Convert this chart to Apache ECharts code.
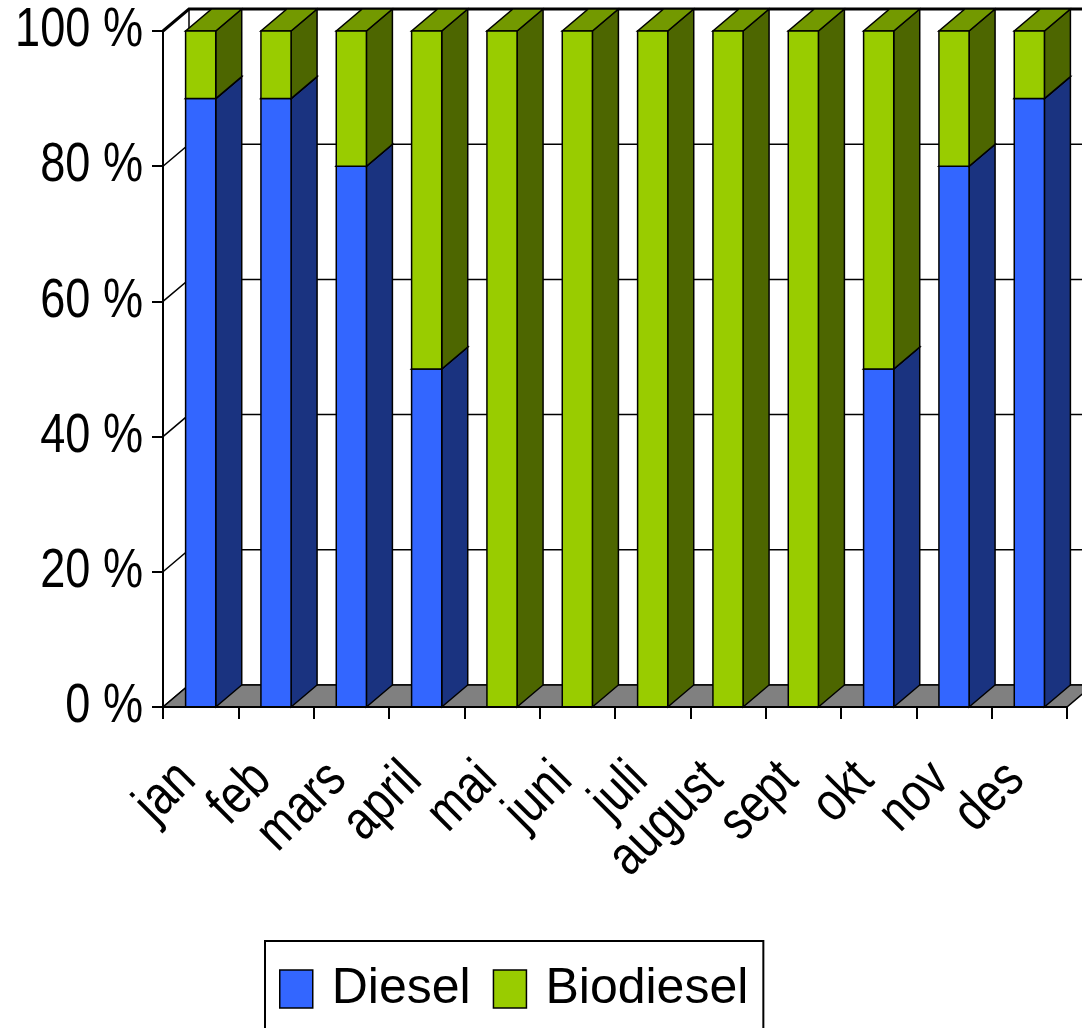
<!DOCTYPE html>
<html>
<head>
<meta charset="utf-8">
<script src="https://cdn.jsdelivr.net/npm/echarts@6/dist/echarts.min.js"></script>
<style>
  html, body { margin: 0; padding: 0; background: #fff; }
  #chart { width: 1082px; height: 1028px; }
</style>
</head>
<body>
<div id="chart"></div>
<script>
// Monthly fuel share (percent of total)
const months = ['jan', 'feb', 'mars', 'april', 'mai', 'juni', 'juli', 'august', 'sept', 'okt', 'nov', 'des'];
const diesel = [90, 90, 80, 50, 0, 0, 0, 0, 0, 50, 80, 90];
const biodiesel = [10, 10, 20, 50, 100, 100, 100, 100, 100, 50, 20, 10];
const yTicks = [0, 20, 40, 60, 80, 100];

const FONT = '"Liberation Sans", Arial, sans-serif';
const LABEL_SIZE = 55;
const NARROW = 0.82;          // horizontal squeeze for a narrow sans look
// 3D depth offset of the back plane
const DX = 26, DY = -22;

const palette = {
  Diesel:    { front: '#3366FF', side: '#1A3380', top: '#264DBF' },
  Biodiesel: { front: '#99CC00', side: '#4D6600', top: '#739900' }
};

function barRenderer(name) {
  const c = palette[name];
  return function (params, api) {
    const idx = api.value(0);
    const val = api.value(1);
    const base = api.value(2);
    if (!(val > 0)) return null;
    const band = api.size([1, 0])[0];
    const w = band * 0.4;
    const p0 = api.coord([idx, base]);
    const p1 = api.coord([idx, base + val]);
    const x0 = p0[0] - w / 2, x1 = p0[0] + w / 2;
    const yb = p0[1], yt = p1[1];
    const st = { stroke: '#000', lineWidth: 1.5, lineJoin: 'miter' };
    return {
      type: 'group',
      children: [
        { type: 'polygon', shape: { points: [[x1, yb], [x1 + DX, yb + DY], [x1 + DX, yt + DY], [x1, yt]] },
          style: Object.assign({ fill: c.side }, st) },
        { type: 'polygon', shape: { points: [[x0, yt], [x1, yt], [x1 + DX, yt + DY], [x0 + DX, yt + DY]] },
          style: Object.assign({ fill: c.top }, st) },
        { type: 'rect', shape: { x: x0, y: yt, width: w, height: yb - yt },
          style: Object.assign({ fill: c.front }, st) }
      ]
    };
  };
}

// Back wall, side wall gridlines and floor
function wallRenderer(params, api) {
  const cs = params.coordSys;
  const v = api.value(1);
  const y = api.coord([0, v])[1];
  const left = cs.x, right = cs.x + cs.width, bottom = cs.y + cs.height, top = cs.y;
  const W = api.getWidth();
  const lw = v === 100 ? 3 : 1.5;
  const children = [
    { type: 'polyline', shape: { points: [[left, y], [left + DX, y + DY], [W + 5, y + DY]] },
      style: { stroke: '#000', lineWidth: lw, fill: null } }
  ];
  if (v === 0) {
    children.push({ type: 'line', shape: { x1: left + DX, y1: bottom + DY, x2: left + DX, y2: top + DY },
      style: { stroke: '#000', lineWidth: 1.5 } });
    children.push({ type: 'polygon',
      shape: { points: [[left, bottom], [right, bottom], [right + DX, bottom + DY], [left + DX, bottom + DY]] },
      style: { fill: '#808080', stroke: '#000', lineWidth: 1.5 } });
  }
  return { type: 'group', children: children };
}

// Value-axis labels ("0 %" ... "100 %")
function yLabelRenderer(params, api) {
  const v = api.value(1);
  const y = api.coord([0, v])[1];
  return {
    type: 'text', x: params.coordSys.x - 20, y: y, scaleX: NARROW,
    style: { text: v + ' %', fill: '#000', font: LABEL_SIZE + 'px ' + FONT,
             align: 'right', verticalAlign: 'middle' }
  };
}

// Month labels, rotated 45 degrees
function xLabelRenderer(params, api) {
  const p = api.coord([api.value(0), 0]);
  const up = LABEL_SIZE * 0.35 * Math.SQRT1_2;
  return {
    type: 'text', x: p[0] - up, y: p[1] + 78 - up,
    rotation: Math.PI / 4, scaleX: NARROW,
    style: { text: months[params.dataIndex], fill: '#000', font: LABEL_SIZE + 'px ' + FONT,
             align: 'right', verticalAlign: 'middle' }
  };
}

const chart = echarts.init(document.getElementById('chart'), null, { renderer: 'canvas' });
chart.setOption({
  animation: false,
  backgroundColor: '#fff',
  grid: { left: 163, right: 15, top: 31, bottom: 321, containLabel: false, outerBoundsMode: 'none' },
  legend: {
    data: ['Diesel', 'Biodiesel'],
    left: 265, top: 941,
    padding: [18, 15, 18, 14],
    borderColor: '#000', borderWidth: 2,
    itemWidth: 33, itemHeight: 38, itemGap: 22,
    icon: 'rect',
    itemStyle: { borderColor: '#000', borderWidth: 1.5 },
    textStyle: { fontFamily: FONT, fontSize: 50, color: '#000', lineHeight: 60, padding: [0, 0, 0, 14] }
  },
  xAxis: {
    type: 'category', data: months, z: 5,
    axisLine: { show: true, lineStyle: { color: '#000', width: 2 } },
    axisTick: { show: true, length: 12, alignWithLabel: false, lineStyle: { color: '#000', width: 2 } },
    axisLabel: { show: false },
    splitLine: { show: false }
  },
  yAxis: {
    type: 'value', min: 0, max: 100, interval: 20, z: 5,
    axisLine: { show: true, lineStyle: { color: '#000', width: 2 } },
    axisTick: { show: true, length: 11, lineStyle: { color: '#000', width: 2 } },
    axisLabel: { show: false },
    splitLine: { show: false }
  },
  series: [
    { name: 'wall', type: 'custom', z: 1, silent: true, clip: false,
      renderItem: wallRenderer, encode: { x: 0, y: 1 },
      data: yTicks.map(v => [0, v]) },
    { name: 'Diesel', type: 'custom', z: 3, clip: false,
      itemStyle: { color: palette.Diesel.front },
      renderItem: barRenderer('Diesel'), encode: { x: 0, y: 1 },
      data: months.map((m, i) => [i, diesel[i], 0]) },
    { name: 'Biodiesel', type: 'custom', z: 3, clip: false,
      itemStyle: { color: palette.Biodiesel.front },
      renderItem: barRenderer('Biodiesel'), encode: { x: 0, y: 1 },
      data: months.map((m, i) => [i, biodiesel[i], diesel[i]]) },
    { name: 'yLabels', type: 'custom', z: 6, silent: true, clip: false,
      renderItem: yLabelRenderer, encode: { x: 0, y: 1 },
      data: yTicks.map(v => [0, v]) },
    { name: 'xLabels', type: 'custom', z: 6, silent: true, clip: false,
      renderItem: xLabelRenderer, encode: { x: 0, y: 1 },
      data: months.map((m, i) => [i, 0]) }
  ]
});
</script>
</body>
</html>
